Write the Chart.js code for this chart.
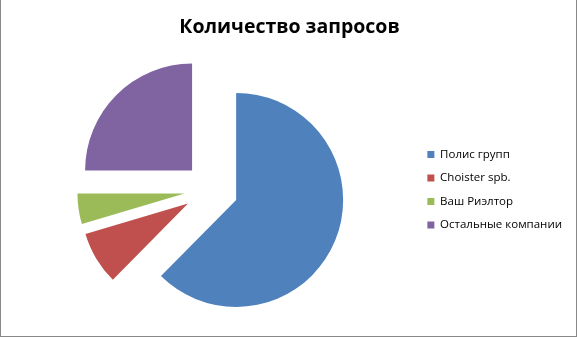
<!DOCTYPE html>
<html>
<head>
<meta charset="utf-8">
<script src="https://cdn.jsdelivr.net/npm/chart.js@4"></script>
<style>
    body { margin: 0; background: #fff; }
    #wrap {
        width: 577px; height: 337px; box-sizing: border-box;
        border: 1px solid #888; border-top: none;
    }
</style>
</head>
<body>
<div id="wrap"><canvas id="myChart" width="575" height="336"></canvas></div>
<script>
    // 데이터
    let categories = ['Полис групп', 'Choister spb.', 'Ваш Риэлтор', 'Остальные компании'];
    let values = [62.4, 8.0, 4.6, 25.0];
    let colors = ['#4F81BD', '#C0504D', '#9BBB59', '#8064A2'];
    let chartTitle = 'Количество запросов';

    let sliceOffset = 108; // v4 에서는 offset/4 만큼 중심에서 밀려남

    // 작은 조각은 반지름이 덜 커지므로 모든 조각의 반지름을 같게 맞춰주기
    // (바깥 호가 잘리는 각도도 되돌려서 조각의 변이 중심을 향하게)
    let equalRadius = {
        id : 'equalRadius',
        afterDatasetUpdate(chart, args) {
            let shift = sliceOffset / 4;
            args.meta.data.forEach(function(arc) {
                let fix = 1 - Math.sin(Math.min(Math.PI, arc.circumference || 0));
                let grow = shift * fix;
                arc.outerRadius = arc.outerRadius + shift * (1 - fix);
                let R = arc.outerRadius + grow;
                let delta = grow / (2 * Math.PI * R);
                arc.startAngle -= delta;
                arc.endAngle += delta;
            });
        }
    };

    let ctx = document.getElementById('myChart');

    let config = {
        type : 'pie',
        data : {
            labels : categories,
            datasets : [
                {
                    data : values,
                    backgroundColor : colors,
                    borderWidth : 0,
                    offset : sliceOffset,
                    hoverOffset : 0
                }
            ]
        },
        options : {
            responsive : false,
            animation : false,
            radius : 80,
            layout : {
                padding : { left : 6, right : 4, top : 0, bottom : 14 }
            },
            plugins : {
                title : {
                    display : true,
                    text : chartTitle,
                    color : '#000',
                    font : { family : 'Open Sans', size : 19.5, weight : 'bold' },
                    padding : { top : 16, bottom : 18 }
                },
                legend : {
                    position : 'right',
                    fullSize : false,
                    labels : {
                        color : '#000',
                        boxWidth : 7,
                        boxHeight : 7,
                        padding : 12,
                        font : { family : 'Open Sans', size : 11.5 }
                    }
                },
                tooltip : { enabled : false }
            }
        },
        plugins : [equalRadius]
    };

    let myChart = new Chart(ctx, config);
</script>
</body>
</html>
